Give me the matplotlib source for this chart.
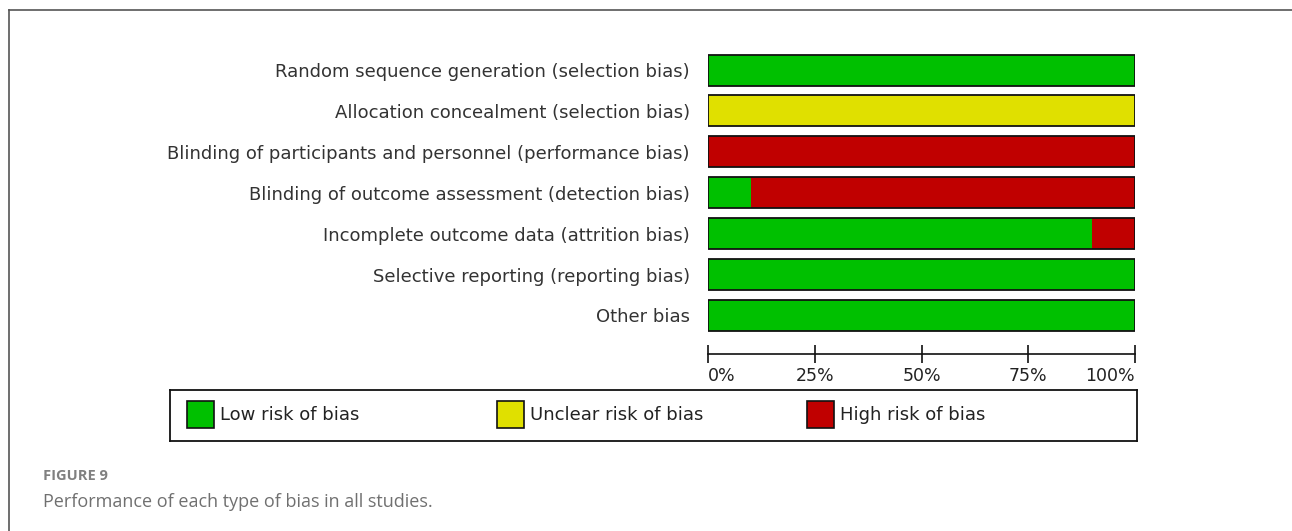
import matplotlib
matplotlib.use("Agg")
import matplotlib.pyplot as plt
from matplotlib.patches import Rectangle
from matplotlib.lines import Line2D

categories = [
    "Random sequence generation (selection bias)",
    "Allocation concealment (selection bias)",
    "Blinding of participants and personnel (performance bias)",
    "Blinding of outcome assessment (detection bias)",
    "Incomplete outcome data (attrition bias)",
    "Selective reporting (reporting bias)",
    "Other bias",
]
low_risk = [100, 0, 0, 10, 90, 100, 100]
unclear_risk = [0, 100, 0, 0, 0, 0, 0]
high_risk = [0, 0, 100, 90, 10, 0, 0]
series_names = ["Low risk of bias", "Unclear risk of bias", "High risk of bias"]
series_colors = ["#00C000", "#E0E000", "#C00000"]
x_ticks = [0, 25, 50, 75, 100]
x_ticklabels = ["0%", "25%", "50%", "75%", "100%"]

W, H = 1292, 531
fig = plt.figure(figsize=(W / 100, H / 100), dpi=100)
fig.patch.set_facecolor("white")

def fx(x):
    return x / W

def fy(y):
    return 1 - y / H

# outer frame (top and left only)
fig.add_artist(Line2D([fx(9), 1], [fy(10), fy(10)], color="#555555", lw=1.2))
fig.add_artist(Line2D([fx(9), fx(9)], [fy(10), 0], color="#555555", lw=1.2))

# main axes
top_px, bot_px = 50, 354
ax = fig.add_axes([fx(708), fy(bot_px), (1135 - 708) / W, (bot_px - top_px) / H])
row0, pitch = 70.0, 40.9
ax.set_ylim((bot_px - row0) / pitch, (top_px - row0) / pitch)
ax.set_xlim(0, 100)
ypos = list(range(len(categories)))
bh = 31 / pitch

left = [0] * len(categories)
for vals, col in zip([low_risk, unclear_risk, high_risk], series_colors):
    ax.barh(ypos, vals, left=left, height=bh, color=col, edgecolor="none", linewidth=0)
    left = [l + v for l, v in zip(left, vals)]
ax.barh(ypos, left, height=bh, fill=False, edgecolor="#111111", linewidth=1.3)

for s in ["top", "right", "left"]:
    ax.spines[s].set_visible(False)
ax.spines["bottom"].set_color("#111111")
ax.spines["bottom"].set_linewidth(1.2)
ax.set_xticks(x_ticks)
ax.set_xticklabels(x_ticklabels, fontfamily="DejaVu Sans", fontsize=12.5, color="#222222")
tl = ax.get_xticklabels()
tl[0].set_ha("left")
tl[-1].set_ha("right")
ax.tick_params(axis="x", direction="inout", length=13, width=1.2, color="#111111", pad=3)
ax.set_yticks(ypos)
ax.set_yticklabels(categories, fontfamily="DejaVu Sans", fontsize=13, color="#333333")
ax.tick_params(axis="y", length=0, pad=13)
ax.patch.set_alpha(0)

# legend box
lax = fig.add_axes([fx(170), fy(441), (1137 - 170) / W, (441 - 390) / H])
lax.set_xlim(0, 1137 - 170)
lax.set_ylim(51, 0)
lax.set_xticks([])
lax.set_yticks([])
for s in lax.spines.values():
    s.set_color("#111111")
    s.set_linewidth(1.3)
patch_x = [187, 497, 807]
for px, name, col in zip(patch_x, series_names, series_colors):
    x0 = px - 170
    lax.add_patch(Rectangle((x0, 11), 27, 27, facecolor=col, edgecolor="#111111", linewidth=1.2))
    lax.text(x0 + 33, 25, name, fontfamily="DejaVu Sans", fontsize=13, color="#222222",
             va="center", ha="left")

# caption
fig.text(fx(43), fy(476), "FIGURE 9", fontfamily="Open Sans", fontsize=10.5, fontweight="bold",
         color="#808080", va="center", ha="left")
fig.text(fx(43), fy(502), "Performance of each type of bias in all studies.", fontfamily="Open Sans",
         fontsize=13, color="#707070", va="center", ha="left")

fig.savefig("out.png", dpi=100, facecolor="white")
